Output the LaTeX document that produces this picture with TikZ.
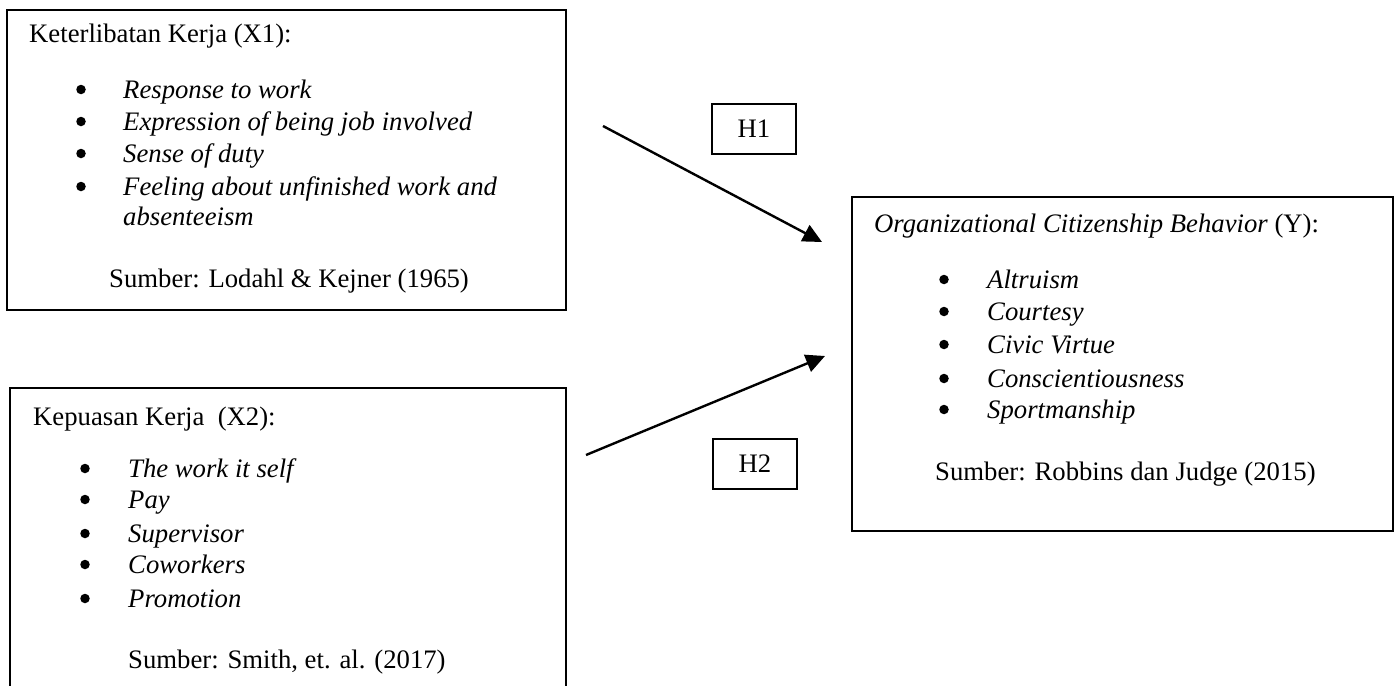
\documentclass[tikz,border=0pt]{standalone}
\usepackage{fontspec}
\setmainfont{Liberation Serif}
\usetikzlibrary{arrows.meta}

\tikzset{
  kotak/.style={line width=2.8pt},
  hipo/.style={draw,line width=1.3pt,minimum width=84pt,minimum height=50pt,inner sep=0pt},
  panah/.style={line width=2.4pt,-{Triangle[length=19pt,width=18pt]}},
  teks/.style={anchor=base west,inner sep=0pt},
  titik/.style={circle,fill,inner sep=0pt,minimum size=9.5pt,yshift=8.5pt},
}

\begin{document}
\begin{tikzpicture}[x=1pt,y=-1pt,font=\fontsize{26.7}{32.5}\selectfont]
  \useasboundingbox (0,0) rectangle (1399,685);
  % kotak variabel
  \draw [kotak](7,10) rectangle (566,310);
  \draw [kotak](10,700)--(10,388)--(566,388)--(566,700);
  \draw [kotak](852,197) rectangle (1393,531);
  % X1
  \node (x1judul) at (29,43) [teks]{Keterlibatan Kerja (X1):};
  \node (x1b1) at (81,98) [titik]{};
  \node (x1a) at (123,98) [teks]{\textit{Response to work}};
  \node (x1b2) at (81,130) [titik]{};
  \node (x1b) at (123,130) [teks]{\textit{Expression of being job involved}};
  \node (x1b3) at (81,162) [titik]{};
  \node (x1c) at (123,162) [teks]{\textit{Sense of duty}};
  \node (x1b4) at (81,195) [titik]{};
  \node (x1d) at (123,195) [teks]{\textit{Feeling about unfinished work and}};
  \node (x1e) at (123,225) [teks]{\textit{absenteeism}};
  \node (x1sumber) at (109,287) [teks]{Sumber: Lodahl \& Kejner (1965)};
  % X2
  \node (x2judul) at (33,425) [teks]{Kepuasan Kerja\ \ (X2):};
  \node (x2b1) at (85,477) [titik]{};
  \node (x2a) at (128,477) [teks]{\textit{The work it self}};
  \node (x2b2) at (85,508) [titik]{};
  \node (x2b) at (128,508) [teks]{\textit{Pay}};
  \node (x2b3) at (85,542) [titik]{};
  \node (x2c) at (128,542) [teks]{\textit{Supervisor}};
  \node (x2b4) at (85,573) [titik]{};
  \node (x2d) at (128,573) [teks]{\textit{Coworkers}};
  \node (x2b5) at (85,607) [titik]{};
  \node (x2e) at (128,607) [teks]{\textit{Promotion}};
  \node (x2sumber) at (128,668) [teks]{Sumber: Smith, et. al. (2017)};
  % Y
  \node (yjudul) at (874,232) [teks]{\textit{Organizational Citizenship Behavior} (Y):};
  \node (yb1) at (944,288) [titik]{};
  \node (ya) at (987,288) [teks]{\textit{Altruism}};
  \node (yb2) at (944,320) [titik]{};
  \node (yb) at (987,320) [teks]{\textit{Courtesy}};
  \node (yb3) at (944,353) [titik]{};
  \node (yc) at (987,353) [teks]{\textit{Civic Virtue}};
  \node (yb4) at (944,387) [titik]{};
  \node (yd) at (987,387) [teks]{\textit{Conscientiousness}};
  \node (yb5) at (944,418) [titik]{};
  \node (ye) at (987,418) [teks]{\textit{Sportmanship}};
  \node (ysumber) at (935,480) [teks]{Sumber: Robbins dan Judge (2015)};
  % hipotesis
  \node (h1) at (754,129) [hipo]{H1};
  \node (h2) at (755,464) [hipo]{H2};
  \coordinate (p1) at (603,126);
  \coordinate (q1) at (822,242);
  \coordinate (p2) at (586,455);
  \coordinate (q2) at (825,356);
  \draw [panah](p1)--(q1);
  \draw [panah](p2)--(q2);
\end{tikzpicture}
\end{document}
